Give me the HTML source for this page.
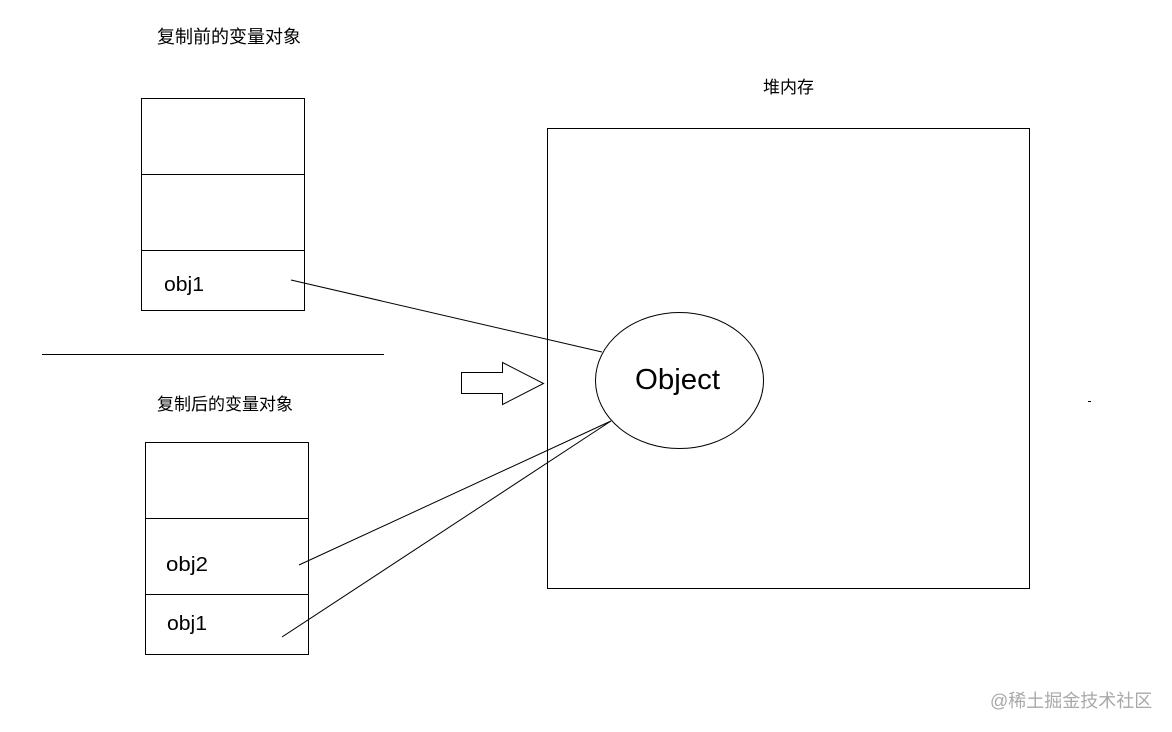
<!DOCTYPE html>
<html><head><meta charset="utf-8">
<style>html,body{margin:0;padding:0;background:#fff}svg{display:block}
text{font-family:"Liberation Sans","Noto Sans CJK SC",sans-serif;fill:#000}</style></head>
<body>
<svg width="1172" height="732" viewBox="0 0 1172 732" xmlns="http://www.w3.org/2000/svg">
<g fill="none" stroke="#000" stroke-width="1">
<rect x="141.5" y="98.5" width="163" height="212"/>
<line x1="141" y1="174.5" x2="304" y2="174.5"/>
<line x1="141" y1="250.5" x2="304" y2="250.5"/>
<rect x="145.5" y="442.5" width="163" height="212"/>
<line x1="145" y1="518.5" x2="308" y2="518.5"/>
<line x1="145" y1="594.5" x2="308" y2="594.5"/>
<rect x="547.5" y="128.5" width="482" height="460"/>
<line x1="42" y1="354.5" x2="384" y2="354.5"/>
<line x1="291" y1="280" x2="602" y2="352"/>
<line x1="299" y1="565" x2="611" y2="421"/>
<line x1="282" y1="637" x2="611" y2="421"/>
<ellipse cx="679.5" cy="380.5" rx="84" ry="68" fill="#fff"/>
<polygon points="461.5,372.5 502.5,372.5 502.5,362.5 543.5,383.5 502.5,404.5 502.5,393.5 461.5,393.5" fill="#fff"/>
<line x1="1088" y1="401.5" x2="1091" y2="401.5"/>
</g>
<text x="157" y="43" font-size="18">复制前的变量对象</text>
<text x="157" y="410" font-size="17">复制后的变量对象</text>
<text x="763" y="93" font-size="17">堆内存</text>
<text x="164" y="291" font-size="20" textLength="40" lengthAdjust="spacingAndGlyphs">obj1</text>
<text x="166" y="571" font-size="20" textLength="42" lengthAdjust="spacingAndGlyphs">obj2</text>
<text x="167" y="630" font-size="20" textLength="40" lengthAdjust="spacingAndGlyphs">obj1</text>
<text x="635" y="389" font-size="29" textLength="85" lengthAdjust="spacingAndGlyphs">Object</text>
<text x="990" y="707" font-size="18" style="fill:#a9a9a9">@稀土掘金技术社区</text>
</svg>
</body></html>
